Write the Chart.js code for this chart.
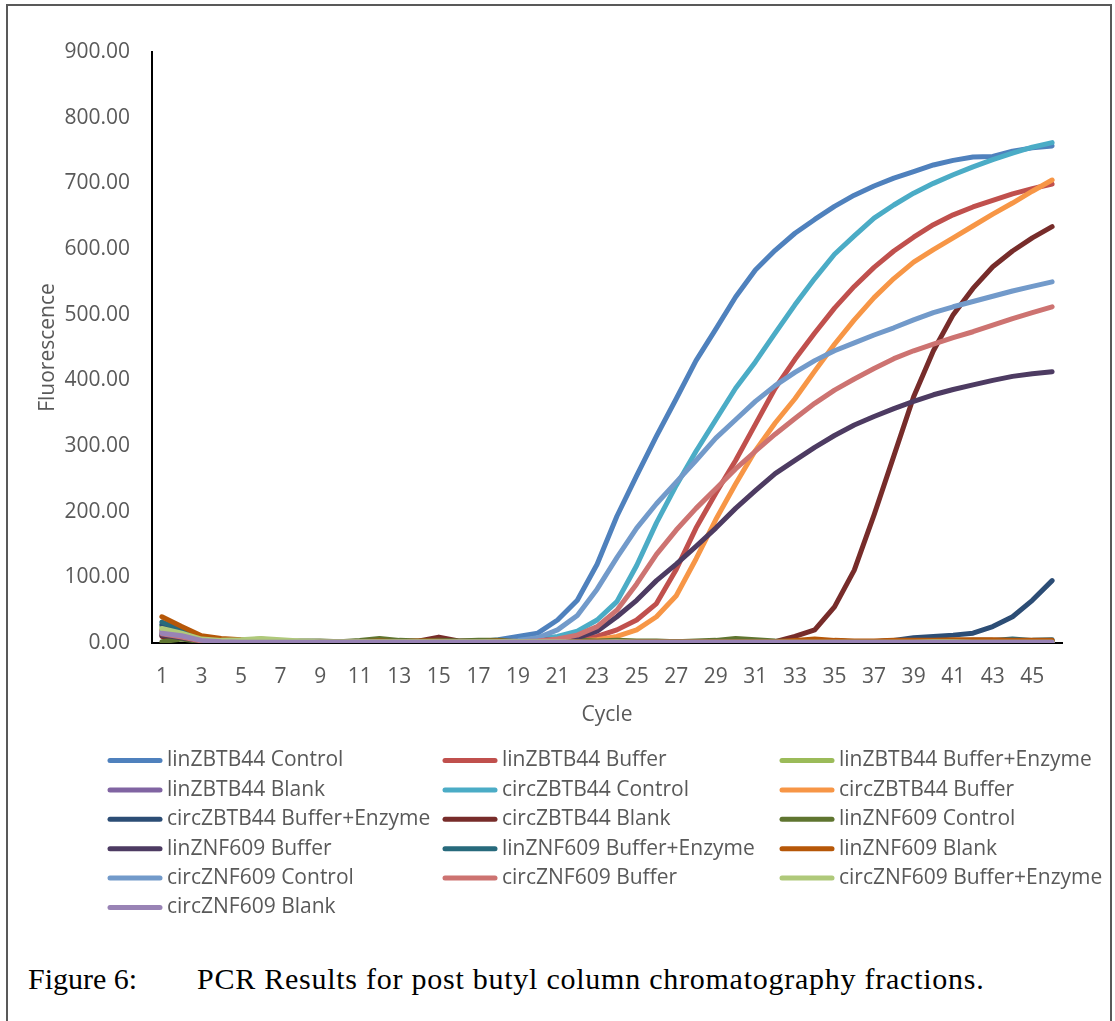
<!DOCTYPE html>
<html><head><meta charset="utf-8">
<script src="https://cdn.jsdelivr.net/npm/chart.js@4.4.0/dist/chart.umd.min.js"></script>
<style>
html,body{margin:0;padding:0;background:#fff;width:1115px;height:1021px;overflow:hidden;}
#frame{position:absolute;left:6px;top:4px;width:1102px;height:1040px;border:2px solid #595959;}
#wrap{position:absolute;left:0;top:0;width:1115px;height:940px;}
.cap{position:absolute;top:961px;font-family:"Liberation Serif","Times New Roman",serif;font-size:30px;color:#000;white-space:nowrap;line-height:36px;}
</style></head><body>
<div id="frame"></div>
<div id="wrap"><canvas id="c" width="1115" height="940"></canvas></div>
<div class="cap" style="left:28px">Figure 6:</div>
<div class="cap" style="left:197px;letter-spacing:0.75px">PCR Results for post butyl column chromatography fractions.</div>
<script>
const cycles = [1,2,3,4,5,6,7,8,9,10,11,12,13,14,15,16,17,18,19,20,21,22,23,24,25,26,27,28,29,30,31,32,33,34,35,36,37,38,39,40,41,42,43,44,45,46];
const yTicks = [0,100,200,300,400,500,600,700,800,900];

const linZBTB44_Control = [12,8,3,2,1,1,1,1,1,1, 1,1,1,1,1,1,2,5,10,15, 35,65,120,193,255,315,372,430,478,527, 568,598,624,645,665,682,696,708,718,728, 735,740,741,749,754,757];
const linZBTB44_Buffer = [20,12,5,3,2,2,2,1,1,1, 1,1,1,1,1,1,1,2,2,3, 5,6,10,20,35,60,112,175,228,278, 333,388,432,472,510,543,572,597,618,637, 652,664,674,684,692,699];
const linZBTB44_BufferEnzyme = [25,17,7,5,4,6,3,2,2,1, 1,2,1,2,1,1,2,1,1,2, 1,2,1,1,2,1,2,1,1,2, 1,2,1,1,2,1,1,2,1,2, 1,2,1,1,2,2];
const linZBTB44_Blank = [15,10,4,2,1,1,1,1,0,1, 1,1,0,1,1,1,1,1,1,1, 1,1,1,1,1,1,1,1,1,1, 1,1,1,1,1,1,1,1,1,1, 1,1,1,1,1,1];
const circZBTB44_Control = [14,9,4,2,1,1,1,1,1,1, 1,1,1,1,1,1,1,2,4,6, 10,18,35,63,118,183,240,292,340,388, 428,472,515,555,592,620,647,667,685,700, 713,725,736,746,755,762];
const circZBTB44_Buffer = [18,10,4,2,1,1,1,1,1,1, 1,1,1,1,1,1,1,1,1,2, 2,3,5,10,20,40,72,128,188,242, 293,335,372,414,455,492,526,555,580,599, 617,635,653,670,688,705];
const circZBTB44_BufferEnzyme = [28,18,6,3,2,2,2,2,1,2, 2,2,2,2,2,2,2,2,2,2, 2,2,2,2,2,2,2,2,2,2, 2,2,2,2,2,2,2,4,8,10, 12,15,25,40,65,95];
const circZBTB44_Blank = [10,7,3,2,2,2,2,2,2,2, 2,3,2,3,9,3,3,3,3,3, 2,2,2,2,2,2,2,2,2,2, 2,2,10,20,55,111,195,285,375,445, 500,540,573,597,617,634];
const linZNF609_Control = [2,6,2,1,2,1,2,3,3,2, 4,7,4,3,4,3,4,4,3,4, 3,4,3,4,3,3,2,3,4,7, 5,3,2,3,3,2,2,2,3,3, 3,2,3,2,3,3];
const linZNF609_Buffer = [12,8,3,2,1,1,1,1,1,1, 1,1,1,1,1,1,2,2,3,4, 5,8,18,40,65,95,120,147,175,205, 232,258,278,298,316,332,345,357,368,378, 386,393,400,406,410,413];
const linZNF609_BufferEnzyme = [32,20,7,4,3,3,2,2,2,2, 2,2,2,2,3,2,2,2,2,2, 2,2,2,2,2,2,2,2,2,2, 2,2,2,3,3,2,2,2,3,3, 3,4,4,6,4,5];
const linZNF609_Blank = [40,25,11,7,5,3,3,2,2,2, 2,3,2,3,3,2,2,3,2,2, 2,2,2,2,2,2,2,2,2,2, 2,2,4,6,4,3,3,4,4,4, 5,5,5,4,4,4];
const circZNF609_Control = [18,12,4,2,1,1,1,1,1,1, 1,1,1,1,1,1,1,2,4,8, 20,42,82,130,175,212,245,278,312,340, 368,392,412,430,445,457,469,480,492,503, 512,520,528,536,543,550];
const circZNF609_Buffer = [14,9,3,2,1,1,1,1,1,1, 1,1,1,1,1,1,1,2,2,3, 6,12,25,50,90,135,172,205,235,265, 292,318,342,365,385,402,418,433,445,455, 465,474,484,494,503,512];
const circZNF609_BufferEnzyme = [22,15,6,4,5,7,5,3,2,2, 2,2,2,2,2,2,2,2,2,2, 2,1,1,2,1,1,1,1,1,1, 1,1,1,1,1,1,1,1,1,2, 2,1,1,1,1,1];
const circZNF609_Blank = [15,11,4,2,1,1,1,1,1,1, 1,1,1,1,1,1,1,1,1,1, 1,1,1,1,1,1,1,1,1,1, 1,1,1,1,1,1,1,1,1,1, 1,1,1,1,1,1];

const seriesNames = ["linZBTB44 Control","linZBTB44 Buffer","linZBTB44 Buffer+Enzyme","linZBTB44 Blank","circZBTB44 Control","circZBTB44 Buffer","circZBTB44 Buffer+Enzyme","circZBTB44 Blank","linZNF609 Control","linZNF609 Buffer","linZNF609 Buffer+Enzyme","linZNF609 Blank","circZNF609 Control","circZNF609 Buffer","circZNF609 Buffer+Enzyme","circZNF609 Blank"];
const seriesValues = [linZBTB44_Control,linZBTB44_Buffer,linZBTB44_BufferEnzyme,linZBTB44_Blank,circZBTB44_Control,circZBTB44_Buffer,circZBTB44_BufferEnzyme,circZBTB44_Blank,linZNF609_Control,linZNF609_Buffer,linZNF609_BufferEnzyme,linZNF609_Blank,circZNF609_Control,circZNF609_Buffer,circZNF609_BufferEnzyme,circZNF609_Blank];
const seriesColors = ["#4F81BD","#C0504D","#9BBB59","#8064A2","#4BACC6","#F79646","#2C4D75","#772C2A","#5F7530","#4D3B62","#276A7C","#B65708","#729ACA","#CD7371","#AFC97A","#9983B5"];

const FONT = '"Open Sans", "DejaVu Sans", sans-serif';
const legendCols = [108, 443, 780];
const legendRow0 = 760.5, legendRowStep = 29.4;

const gridLegend = {
  id: 'gridLegend',
  afterDraw(chart) {
    const c = chart.ctx;
    c.save();
    c.font = '21px ' + FONT;
    c.textBaseline = 'middle';
    c.textAlign = 'left';
    chart.data.datasets.forEach((ds, i) => {
      const x0 = legendCols[i % 3];
      const y = legendRow0 + Math.floor(i / 3) * legendRowStep;
      c.strokeStyle = ds.borderColor;
      c.lineWidth = 5;
      c.lineCap = 'round';
      c.beginPath(); c.moveTo(x0 + 2, y); c.lineTo(x0 + 52, y); c.stroke();
      c.fillStyle = '#595959';
      c.fillText(ds.label, x0 + 59, y);
    });
    c.restore();
  }
};

new Chart(document.getElementById('c').getContext('2d'), {
  type: 'line',
  data: {
    labels: cycles,
    datasets: seriesNames.map((n, i) => ({
      label: n, data: seriesValues[i],
      borderColor: seriesColors[i], backgroundColor: seriesColors[i],
      borderWidth: 5, pointRadius: 0, pointHoverRadius: 0, tension: 0, fill: false,
      borderCapStyle: 'round', borderJoinStyle: 'round', order: seriesNames.length - i
    }))
  },
  options: {
    responsive: false, animation: false,
    layout: { padding: { left: 0, top: 52, right: 53, bottom: 207 } },
    plugins: { legend: { display: false }, tooltip: { enabled: false } },
    scales: {
      x: {
        type: 'category', offset: true,
        grid: { display: false, drawTicks: false },
        border: { display: true, color: '#000', width: 2 },
        ticks: { autoSkip: false, maxRotation: 0, minRotation: 0, padding: 21, color: '#595959',
          font: { family: FONT, size: 21 },
          callback: (v, i) => (i % 2 === 0 ? String(cycles[i]) : '') },
        title: { display: true, text: 'Cycle', color: '#595959', font: { family: FONT, size: 21 }, padding: { top: 0, bottom: 5 } },
        afterFit: s => { s.height = 90; }
      },
      y: {
        min: 0, max: 900,
        afterBuildTicks: s => { s.ticks = yTicks.map(v => ({ value: v })); },
        grid: { display: false, drawTicks: false },
        border: { display: true, color: '#000', width: 2 },
        ticks: { padding: 22, color: '#595959', font: { family: FONT, size: 21 },
          callback: v => Number(v).toFixed(2) },
        title: { display: true, text: 'Fluorescence', color: '#595959', font: { family: FONT, size: 21 }, padding: { top: 35, bottom: 0 } },
        afterFit: s => { s.width = 152; }
      }
    }
  },
  plugins: [gridLegend]
});
</script>
</body></html>
